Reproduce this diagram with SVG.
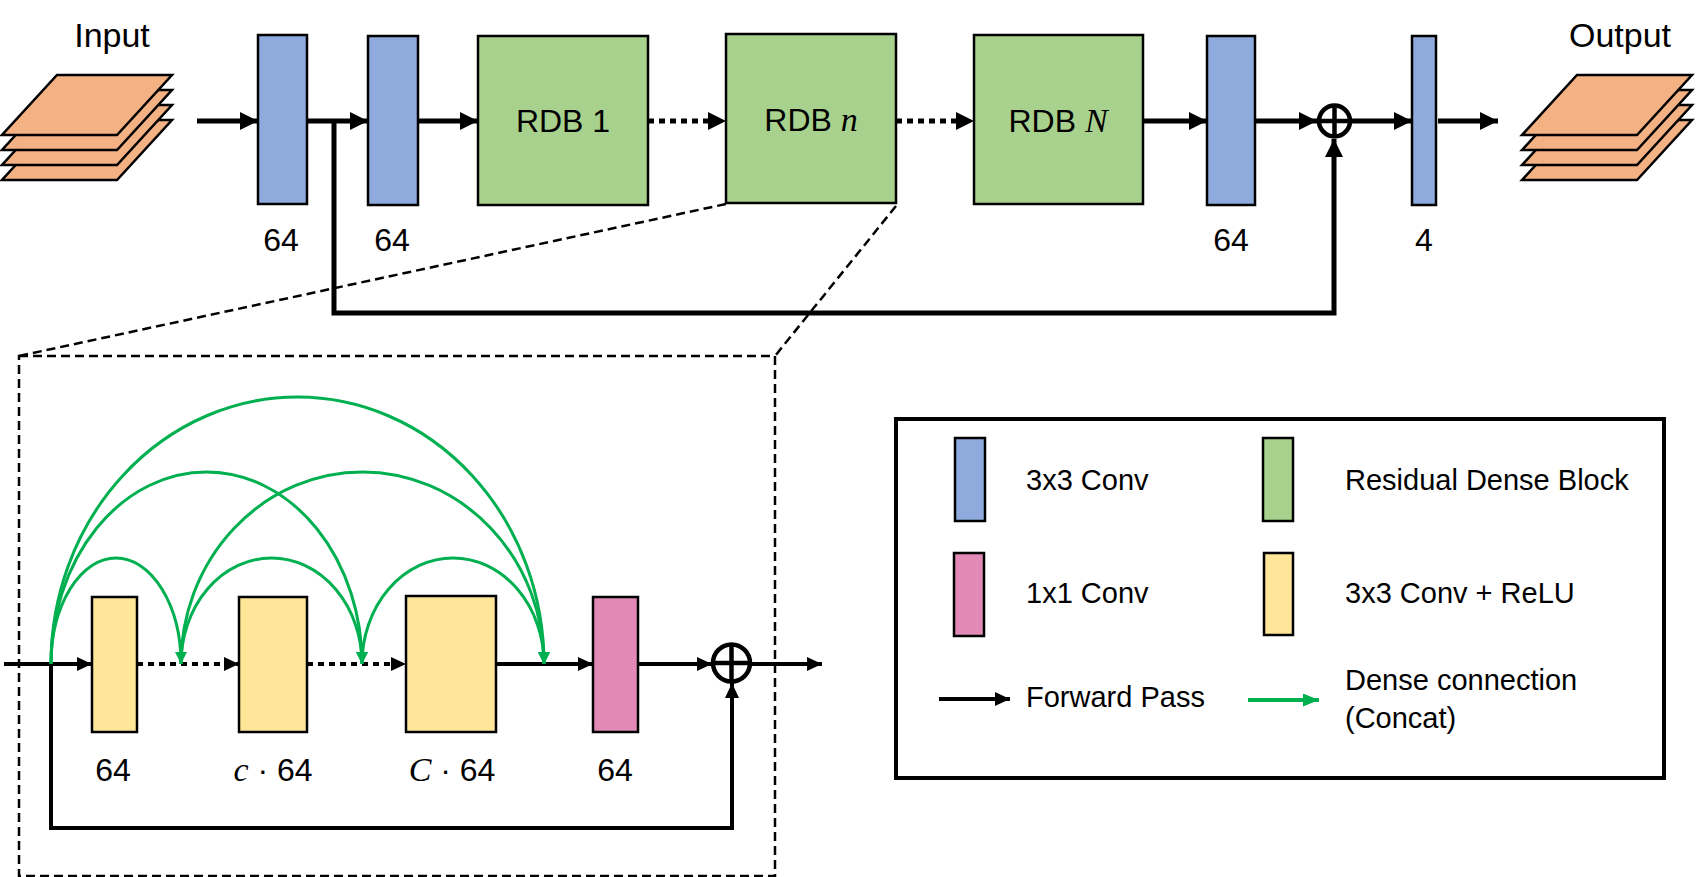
<svg xmlns="http://www.w3.org/2000/svg" width="1698" height="877" viewBox="0 0 1698 877">
<style>
.t{font-family:"Liberation Sans",Arial,sans-serif;fill:#000}
.m{font-family:"Liberation Serif","Times New Roman",serif;font-style:italic}
.box{stroke:#000;stroke-width:2.5}
.blue{fill:#8FAADC}.grn{fill:#A9D18E}.yel{fill:#FFE699}.pink{fill:#E18AB5}.org{fill:#F4B183;stroke:#000;stroke-width:2.5;stroke-linejoin:miter}
.fw{stroke:#000;stroke-width:5;fill:none}
.fw4{stroke:#000;stroke-width:4;fill:none}
.dot{stroke-dasharray:6 5}
.dash{stroke:#000;stroke-width:2.5;fill:none;stroke-dasharray:9 5}
.dense{stroke:#00B050;stroke-width:3;fill:none}
</style>
<defs>
<marker id="ahT" markerUnits="userSpaceOnUse" markerWidth="20" markerHeight="20" refX="18" refY="9" orient="auto"><path d="M0,0 L18,9 L0,18 z" fill="#000"/></marker>
<marker id="ahB" markerUnits="userSpaceOnUse" markerWidth="17" markerHeight="15" refX="15" refY="7" orient="auto"><path d="M0,0 L15,7 L0,14 z" fill="#000"/></marker>
<marker id="ahG" markerUnits="userSpaceOnUse" markerWidth="14" markerHeight="14" refX="12" refY="6" orient="auto"><path d="M0,0 L12,6 L0,12 z" fill="#00B050"/></marker>
<marker id="ahGL" markerUnits="userSpaceOnUse" markerWidth="18" markerHeight="14" refX="16" refY="6.5" orient="auto"><path d="M0,0 L16,6.5 L0,13 z" fill="#00B050"/></marker>
</defs>

<g id="input">
<text class="t" x="112" y="47" font-size="34" text-anchor="middle">Input</text>
<polygon class="org" points="2,180 117,180 172,120 57,120"/>
<polygon class="org" points="2,165 117,165 172,105 57,105"/>
<polygon class="org" points="2,150 117,150 172,90 57,90"/>
<polygon class="org" points="2,135 117,135 172,75 57,75"/>
</g>

<g id="output">
<text class="t" x="1620" y="47" font-size="34" text-anchor="middle">Output</text>
<polygon class="org" points="1522,180 1637,180 1692,120 1577,120"/>
<polygon class="org" points="1522,165 1637,165 1692,105 1577,105"/>
<polygon class="org" points="1522,150 1637,150 1692,90 1577,90"/>
<polygon class="org" points="1522,135 1637,135 1692,75 1577,75"/>
</g>

<g id="conv1"><rect class="box blue" x="258" y="35" width="49" height="169"/><text class="t" x="281" y="251" font-size="32" text-anchor="middle">64</text></g>
<g id="conv2"><rect class="box blue" x="368" y="36" width="50" height="169"/><text class="t" x="392" y="251" font-size="32" text-anchor="middle">64</text></g>
<g id="rdb1"><rect class="box grn" x="478" y="36" width="170" height="169"/><text class="t" x="563" y="132" font-size="32" text-anchor="middle">RDB 1</text></g>
<g id="rdbn"><rect class="box grn" x="726" y="34" width="170" height="169"/><text class="t" x="811" y="131" font-size="32" text-anchor="middle">RDB <tspan class="m" font-size="34">n</tspan></text></g>
<g id="rdbN"><rect class="box grn" x="974" y="35" width="169" height="169"/><text class="t" x="1058" y="132" font-size="32" text-anchor="middle">RDB <tspan class="m" font-size="34">N</tspan></text></g>
<g id="conv3"><rect class="box blue" x="1207" y="36" width="48" height="169"/><text class="t" x="1231" y="251" font-size="32" text-anchor="middle">64</text></g>
<g id="plus1"><circle cx="1334.5" cy="121" r="15.5" fill="#fff" stroke="#000" stroke-width="4.5"/><path d="M1334.5,106 V136 M1319.5,121 H1349.5" stroke="#000" stroke-width="4.5"/></g>
<g id="conv4"><rect class="box blue" x="1412" y="36" width="24" height="169"/><text class="t" x="1424" y="251" font-size="32" text-anchor="middle">4</text></g>

<g id="rdb-detail">
<rect class="dash" x="19" y="356" width="756" height="520"/>
<g id="y1"><rect class="box yel" x="92" y="597" width="45" height="135"/><text class="t" x="113" y="781" font-size="32" text-anchor="middle">64</text></g>
<g id="y2"><rect class="box yel" x="239" y="597" width="68" height="135"/><text class="t" x="273" y="781" font-size="32" text-anchor="middle"><tspan class="m" font-size="34">c</tspan> · 64</text></g>
<g id="y3"><rect class="box yel" x="406" y="596" width="90" height="136"/><text class="t" x="452" y="781" font-size="32" text-anchor="middle"><tspan class="m" font-size="34">C</tspan> · 64</text></g>
<g id="p1"><rect class="box pink" x="593" y="597" width="45" height="135"/><text class="t" x="615" y="781" font-size="32" text-anchor="middle">64</text></g>
<g id="plus2"><circle cx="731.5" cy="663" r="18.5" fill="#fff" stroke="#000" stroke-width="4.5"/><path d="M731.5,646 V680 M714.5,663 H748.5" stroke="#000" stroke-width="4.5"/></g>
</g>

<g id="connectors">
<line class="fw" x1="197" y1="121" x2="258" y2="121" marker-end="url(#ahT)"/>
<line class="fw" x1="307" y1="121" x2="368" y2="121" marker-end="url(#ahT)"/>
<line class="fw" x1="418" y1="121" x2="478" y2="121" marker-end="url(#ahT)"/>
<line class="fw dot" x1="648" y1="121" x2="726" y2="121" marker-end="url(#ahT)"/>
<line class="fw dot" x1="896" y1="121" x2="974" y2="121" marker-end="url(#ahT)"/>
<line class="fw" x1="1143" y1="121" x2="1207" y2="121" marker-end="url(#ahT)"/>
<line class="fw" x1="1255" y1="121" x2="1317" y2="121" marker-end="url(#ahT)"/>
<line class="fw" x1="1352" y1="121" x2="1412" y2="121" marker-end="url(#ahT)"/>
<line class="fw" x1="1438" y1="121" x2="1498" y2="121" marker-end="url(#ahT)"/>
<path class="fw" d="M334,121 V313 H1334 V139" marker-end="url(#ahT)"/>

<line class="dash" x1="726" y1="204" x2="19" y2="356"/>
<line class="dash" x1="896" y1="206" x2="775" y2="356"/>

<line class="fw4" x1="4" y1="664" x2="92" y2="664" marker-end="url(#ahB)"/>
<line class="fw4 dot" x1="137" y1="664" x2="239" y2="664" marker-end="url(#ahB)"/>
<line class="fw4 dot" x1="307" y1="664" x2="406" y2="664" marker-end="url(#ahB)"/>
<line class="fw4" x1="496" y1="664" x2="593" y2="664" marker-end="url(#ahB)"/>
<line class="fw4" x1="638" y1="664" x2="712" y2="664" marker-end="url(#ahB)"/>
<line class="fw4" x1="751" y1="664" x2="822" y2="664" marker-end="url(#ahB)"/>
<path class="fw4" d="M51,664 V828 H732 V683" marker-end="url(#ahB)"/>

<path class="dense" d="M51,664 A65,106 0 0 1 181,664" marker-end="url(#ahG)"/>
<path class="dense" d="M51,664 A155.5,192 0 0 1 362,664" marker-end="url(#ahG)"/>
<path class="dense" d="M51,664 A246.5,267 0 0 1 544,664" marker-end="url(#ahG)"/>
<path class="dense" d="M181,664 A90.5,106 0 0 1 362,664" marker-end="url(#ahG)"/>
<path class="dense" d="M181,664 A181.5,192 0 0 1 544,664" marker-end="url(#ahG)"/>
<path class="dense" d="M362,664 A91,106 0 0 1 544,664" marker-end="url(#ahG)"/>
</g>

<g id="legend">
<rect x="896" y="419" width="768" height="359" fill="none" stroke="#000" stroke-width="4"/>
<rect class="box blue" x="955" y="438" width="30" height="83"/>
<text class="t" x="1026" y="490" font-size="29">3x3 Conv</text>
<rect class="box grn" x="1263" y="438" width="30" height="83"/>
<text class="t" x="1345" y="490" font-size="29">Residual Dense Block</text>
<rect class="box pink" x="954" y="553" width="30" height="83"/>
<text class="t" x="1026" y="603" font-size="29">1x1 Conv</text>
<rect class="box yel" x="1264" y="553" width="29" height="82"/>
<text class="t" x="1345" y="603" font-size="29">3x3 Conv + ReLU</text>
<line class="fw4" x1="939" y1="699" x2="1010" y2="699" marker-end="url(#ahB)"/>
<text class="t" x="1026" y="707" font-size="29">Forward Pass</text>
<line stroke="#00B050" stroke-width="4" x1="1248" y1="700" x2="1319" y2="700" marker-end="url(#ahGL)"/>
<text class="t" x="1345" y="690" font-size="29">Dense connection</text>
<text class="t" x="1345" y="728" font-size="29">(Concat)</text>
</g>
</svg>
